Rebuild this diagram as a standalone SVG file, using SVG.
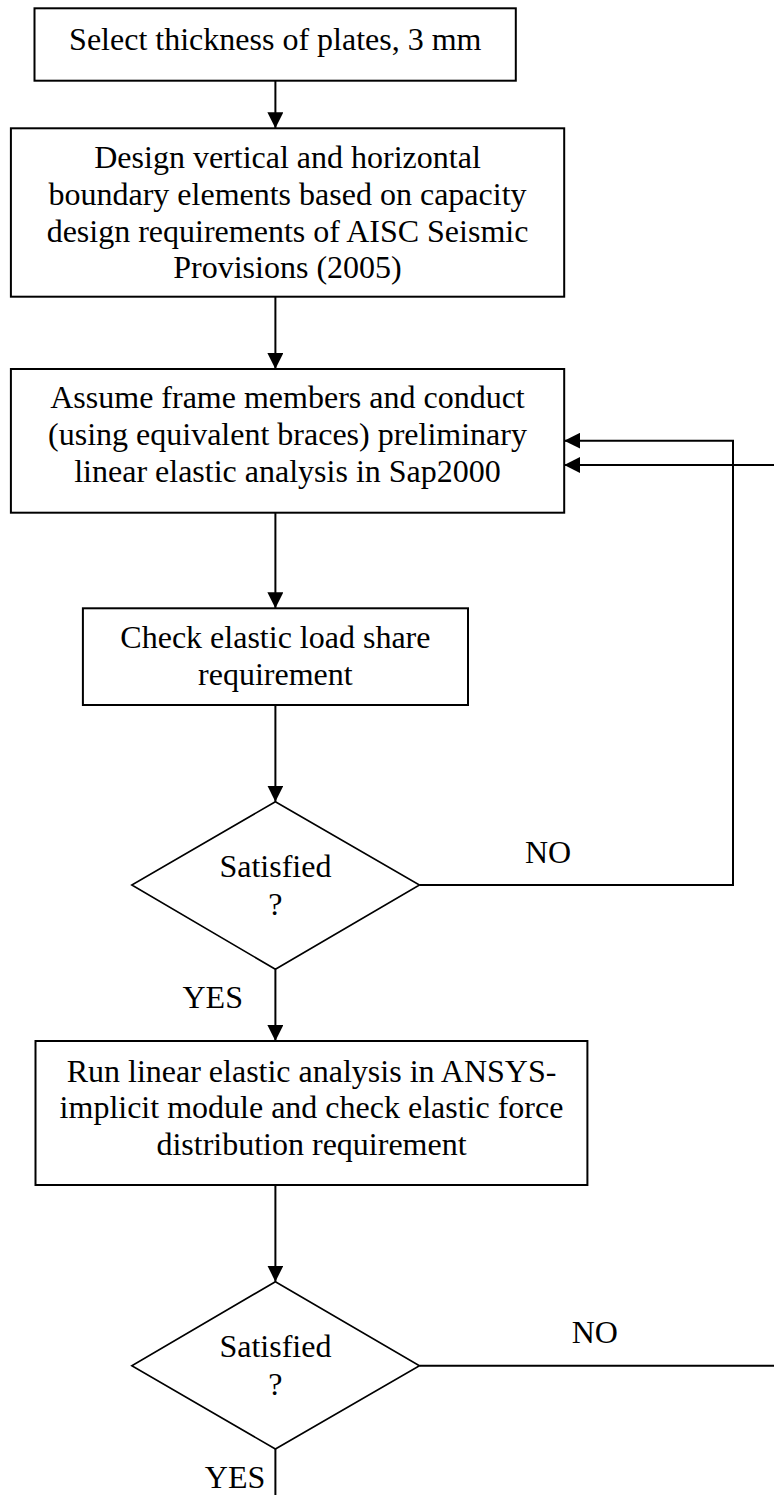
<svg xmlns="http://www.w3.org/2000/svg" width="774" height="1495" viewBox="0 0 774 1495">
<style>
.box{fill:#fff;stroke:#000;stroke-width:2}
.dia{fill:#fff;stroke:#000;stroke-width:1.6}
.t{font-family:"Liberation Serif","Times New Roman",serif;font-size:32px;fill:#000;text-anchor:middle}
.c{fill:none;stroke:#000;stroke-width:2}
.a{marker-end:url(#arr)}
</style>
<defs>
<marker id="arr" markerUnits="userSpaceOnUse" markerWidth="17" markerHeight="16" refX="16" refY="8" orient="auto">
<path d="M0,0 L16,8 L0,16 z" fill="#000"/>
</marker>
</defs>
<rect width="774" height="1495" fill="#fff"/>
<g id="connectors">
<line class="c a" x1="275.4" y1="80.7" x2="275.4" y2="128.3"/>
<line class="c a" x1="275.4" y1="296.7" x2="275.4" y2="369"/>
<line class="c a" x1="275.4" y1="512.7" x2="275.4" y2="608.3"/>
<line class="c a" x1="275.4" y1="705" x2="275.4" y2="801.7"/>
<polyline class="c a" points="419.5,885 733,885 733,440.7 564.2,440.7"/>
<line class="c a" x1="275.4" y1="969.3" x2="275.4" y2="1041"/>
<line class="c a" x1="275.4" y1="1185" x2="275.4" y2="1281.7"/>
<line class="c" x1="419.5" y1="1365.7" x2="774" y2="1365.7"/>
<line class="c a" x1="774" y1="465" x2="564.2" y2="465"/>
<line class="c" x1="275.4" y1="1449" x2="275.4" y2="1495"/>
<text class="t" x="548" y="863.3">NO</text>
<text class="t" x="212.7" y="1008.3">YES</text>
<text class="t" x="594.8" y="1343.3">NO</text>
<text class="t" x="235" y="1488.3">YES</text>
</g>
<g id="n1">
<rect class="box" x="34.5" y="8.3" width="481.3" height="72.4"/>
<text class="t" x="275.3" y="50">Select thickness of plates, 3 mm</text>
</g>
<g id="n2">
<rect class="box" x="10.9" y="128.3" width="553.3" height="168.4"/>
<text class="t" x="287.5" y="168.3">Design vertical and horizontal</text>
<text class="t" x="287.5" y="205">boundary elements based on capacity</text>
<text class="t" x="287.5" y="241.7">design requirements of AISC Seismic</text>
<text class="t" x="287.5" y="278.3">Provisions (2005)</text>
</g>
<g id="n3">
<rect class="box" x="10.9" y="369" width="553.3" height="143.7"/>
<text class="t" x="287.5" y="408.3">Assume frame members and conduct</text>
<text class="t" x="287.5" y="445">(using equivalent braces) preliminary</text>
<text class="t" x="287.5" y="481.7">linear elastic analysis in Sap2000</text>
</g>
<g id="n4">
<rect class="box" x="82.9" y="608.3" width="385.1" height="96.7"/>
<text class="t" x="275.4" y="648.3">Check elastic load share</text>
<text class="t" x="275.4" y="685">requirement</text>
</g>
<g id="d1">
<polygon class="dia" points="275.4,801.7 419.5,885 275.4,969.3 131.8,885"/>
<text class="t" x="275.4" y="877.3">Satisfied</text>
<text class="t" x="275.4" y="915">?</text>
</g>
<g id="n5">
<rect class="box" x="35.5" y="1041" width="551.9" height="144"/>
<text class="t" x="311.5" y="1081.7">Run linear elastic analysis in ANSYS-</text>
<text class="t" x="311.5" y="1118.4">implicit module and check elastic force</text>
<text class="t" x="311.5" y="1155">distribution requirement</text>
</g>
<g id="d2">
<polygon class="dia" points="275.4,1281.7 419.5,1365.7 275.4,1449 131.8,1365.7"/>
<text class="t" x="275.4" y="1357.3">Satisfied</text>
<text class="t" x="275.4" y="1395">?</text>
</g>
</svg>
